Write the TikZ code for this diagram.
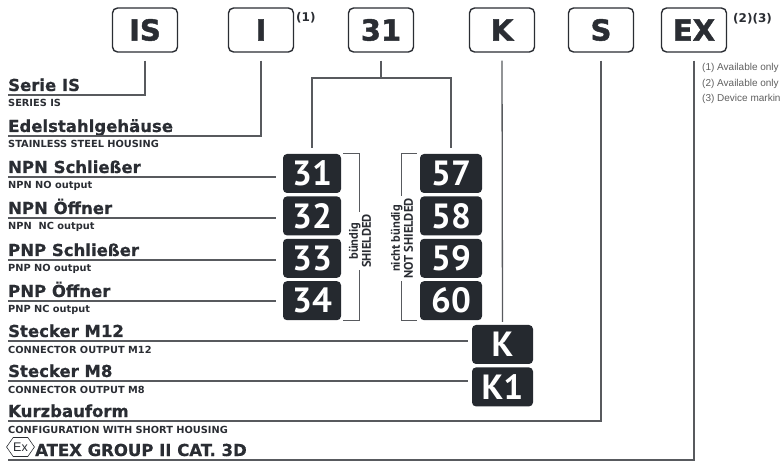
\documentclass[tikz,border=0pt]{standalone}
\usepackage{fontspec}
\setmainfont{DejaVu Sans}
\newfontfamily\ptsans{PT Sans}
\newfontfamily\notefont{Liberation Sans}
\newfontfamily\heavyfont{DejaVu Sans Bold}[FakeBold=1.5]
\newfontfamily\headfont{DejaVu Sans Bold}[FakeBold=0.6]
\usepackage{xcolor}
\usetikzlibrary{shapes.symbols, positioning}
\definecolor{codeink}{RGB}{42,45,51}
\definecolor{boxfill}{RGB}{37,41,47}
\definecolor{leadgray}{RGB}{88,90,94}
\definecolor{notegray}{RGB}{95,95,95}

\begin{document}
\begin{tikzpicture}[x=1pt, y=-1pt, node distance=3pt]

    % Define styles for the different parts of the code
    \tikzstyle{field} = [draw=codeink, rounded corners=5pt, line width=1.4pt, minimum width=65pt, minimum height=44pt, inner sep=0pt, text=codeink, font=\heavyfont\fontsize{29}{29}\selectfont]
    \tikzstyle{choice} = [fill=boxfill, rounded corners=4pt, minimum width=58pt, minimum height=39pt, inner sep=0pt, text=white, font=\ptsans\fontsize{35}{35}\selectfont\bfseries]
    \tikzstyle{heading} = [anchor=base west, inner sep=0pt, text=codeink, font=\headfont\fontsize{16.5}{18}\selectfont]
    \tikzstyle{subheading} = [anchor=base west, inner sep=0pt, text=codeink, font=\fontsize{9.8}{10}\selectfont\bfseries]
    \tikzstyle{fnmark} = [anchor=west, inner sep=0pt, text=codeink, font=\fontsize{12}{12}\selectfont\bfseries]
    \tikzstyle{note} = [anchor=west, inner sep=0pt, text=notegray, font=\notefont\fontsize{10}{10}\selectfont]
    \tikzstyle{shield} = [rotate=90, fill=white, align=center, inner sep=2pt, text=codeink, font=\ptsans\fontsize{12.5}{13}\selectfont\bfseries]
    \tikzstyle{lead} = [draw=leadgray, line width=1.3pt]

    \useasboundingbox (0,0) rectangle (782,462);

    % code fields
    \node (cIS) [field] at (145,30) {IS};
    \node (cI) [field] at (261,30) {I};
    \node (c31) [field] at (381,30) {31};
    \node (cK) [field] at (502,30) {K};
    \node (cS) [field] at (601,30) {S};
    \node (cEX) [field] at (694,30) {EX};
    \node (fn1) [fnmark] at (296,18) {(1)};
    \node (fn23) [fnmark] at (733,19) {(2)(3)};

    \node (note1) [note] at (702,68) {(1) Available only};
    \node (note2) [note] at (702,83.5) {(2) Available only};
    \node (note3) [note] at (702,99) {(3) Device markin};

    % options
    \node (b31) [choice] at (312,173.5) {31};
    \node (b32) [choice, below=of b31] {32};
    \node (b33) [choice, below=of b32] {33};
    \node (b34) [choice, below=of b33] {34};
    \node (b57) [choice, minimum width=62pt] at (451,173.5) {57};
    \node (b58) [choice, minimum width=62pt, below=of b57] {58};
    \node (b59) [choice, minimum width=62pt, below=of b58] {59};
    \node (b60) [choice, minimum width=62pt, below=of b59] {60};
    \node (bK) [choice, minimum width=61pt] at (502.5,344.5) {K};
    \node (bK1) [choice, minimum width=61pt, below=of bK] {K1};

    % rows
    \coordinate (lIS) at (8,95);
    \coordinate (lI) at (8,136);
    \coordinate (l31) at (8,177);
    \coordinate (l32) at (8,218);
    \coordinate (l33) at (8,260);
    \coordinate (l34) at (8,301);
    \coordinate (lK) at (8,341);
    \coordinate (lK1) at (8,381);
    \coordinate (lS) at (8,421);
    \coordinate (lEX) at (8,460);
    \coordinate (fork) at (381,78);

    \node (hIS) [heading] at ([yshift=4pt]lIS) {Serie IS};
    \node (sIS) [subheading] at ([yshift=-12pt]lIS) {SERIES IS};
    \node (hI) [heading] at ([yshift=4pt]lI) {Edelstahlgehäuse};
    \node (sI) [subheading] at ([yshift=-12pt]lI) {STAINLESS STEEL HOUSING};
    \node (h31) [heading] at ([yshift=4pt]l31) {NPN Schließer};
    \node (s31) [subheading] at ([yshift=-12pt]l31) {NPN NO output};
    \node (h32) [heading] at ([yshift=4pt]l32) {NPN Öffner};
    \node (s32) [subheading] at ([yshift=-12pt]l32) {NPN\ \ NC output};
    \node (h33) [heading] at ([yshift=4pt]l33) {PNP Schließer};
    \node (s33) [subheading] at ([yshift=-12pt]l33) {PNP NO output};
    \node (h34) [heading] at ([yshift=4pt]l34) {PNP Öffner};
    \node (s34) [subheading] at ([yshift=-12pt]l34) {PNP NC output};
    \node (hK) [heading] at ([yshift=4pt]lK) {Stecker M12};
    \node (sK) [subheading] at ([yshift=-12pt]lK) {CONNECTOR OUTPUT M12};
    \node (hK1) [heading] at ([yshift=4pt]lK1) {Stecker M8};
    \node (sK1) [subheading] at ([yshift=-12pt]lK1) {CONNECTOR OUTPUT M8};
    \node (hS) [heading] at ([yshift=4pt]lS) {Kurzbauform};
    \node (sS) [subheading] at ([yshift=-12pt]lS) {CONFIGURATION WITH SHORT HOUSING};
    \node (exmk) [draw=codeink, line width=0.6pt, shape=signal, signal to=west and east, signal pointer angle=110, minimum width=25pt, minimum height=19pt, inner sep=0pt, text=codeink, font=\notefont\fontsize{12.5}{12.5}\selectfont] at (20.5,447) {Ex};
    \node (hEX) [heading] at ([xshift=27pt, yshift=4pt]lEX) {ATEX GROUP II CAT. 3D};

    % shield brackets
    \draw[lead] ([xshift=2pt]b31.north east) -| ([xshift=18pt]b34.south east) -- ([xshift=2pt]b34.south east);
    \draw[lead] ([xshift=-3pt]b57.north west) -| ([xshift=-18pt]b60.south west) -- ([xshift=-3pt]b60.south west);
    \node (shd) [shield] at (360,241) {bündig\\SHIELDED};
    \node (nshd) [shield] at (402,238.5) {nicht bündig\\NOT SHIELDED};

    % leads
    \draw[lead, shorten <=8pt] (cIS.south) |- (lIS);
    \draw[lead, shorten <=8pt] (cI.south) |- (lI);
    \draw[lead, shorten <=8pt] (c31.south) -- (fork);
    \draw[lead, shorten >=6pt] (fork) -| (b31.north);
    \draw[lead, shorten >=6pt] (fork) -| (b57.north);
    \draw[lead, shorten >=7pt] (l31) -- (l31 -| b31.west);
    \draw[lead, shorten >=7pt] (l32) -- (l32 -| b32.west);
    \draw[lead, shorten >=7pt] (l33) -- (l33 -| b33.west);
    \draw[lead, shorten >=7pt] (l34) -- (l34 -| b34.west);
    \draw[lead, shorten <=8pt, shorten >=3pt] (cK.south) -- (bK.north);
    \draw[lead, shorten >=4pt] (lK) -- (lK -| bK.west);
    \draw[lead, shorten >=4pt] (lK1) -- (lK1 -| bK1.west);
    \draw[lead, shorten <=8pt] (cS.south) |- (lS);
    \draw[lead, shorten <=8pt] (cEX.south) |- (lEX);

\end{tikzpicture}
\end{document}
